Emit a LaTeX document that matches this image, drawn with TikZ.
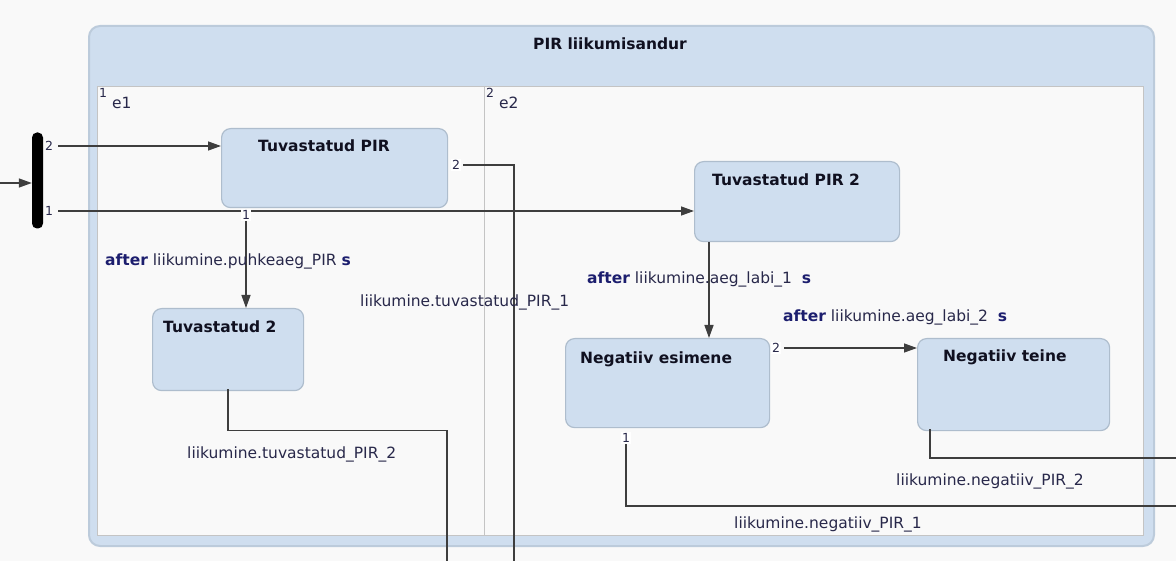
\documentclass[tikz,border=0pt]{standalone}
\usepackage{fontspec}
\setmainfont{DejaVu Sans}
\usetikzlibrary{arrows.meta}
\definecolor{bg}{HTML}{F9F9F9}
\definecolor{statefill}{HTML}{CFDEEF}
\definecolor{stateedge}{HTML}{AEBDCD}
\definecolor{machineedge}{HTML}{BCCBDB}
\definecolor{regionfill}{HTML}{F9F9F9}
\definecolor{regionedge}{HTML}{C4C4C4}
\definecolor{wire}{HTML}{3E3E3E}
\definecolor{labeltext}{HTML}{28284A}
\definecolor{keyword}{HTML}{1C1E6E}
\definecolor{titletext}{HTML}{101020}
\newcommand{\kw}[1]{{\bfseries\color{keyword}#1}}
\begin{document}
\begin{tikzpicture}[x=1pt,y=-1pt,
  txt/.style={font=\fontsize{15.5}{18}\selectfont, text=labeltext, inner sep=0pt, anchor=base west},
  title/.style={font=\fontsize{15.5}{18}\selectfont\bfseries, text=titletext, inner sep=0pt, anchor=base west},
  num/.style={font=\fontsize{12.5}{14}\selectfont, text=labeltext, inner sep=1pt, fill=white},
  numclear/.style={font=\fontsize{12.5}{14}\selectfont, text=labeltext, inner sep=1pt},
  state/.style={draw=stateedge, fill=statefill, line width=1.2pt, rounded corners=9pt, inner sep=0pt, anchor=north west},
  wireline/.style={draw=wire, line width=1.4pt},
  arrow/.style={wireline, -{Triangle[length=13pt,width=9pt]}},
]
\useasboundingbox (0,0) rectangle (1176,561);
\fill[bg] (0,0) rectangle (1176,561);

% composite state with its two regions
\node[draw=machineedge, fill=statefill, line width=2pt, rounded corners=11pt, inner sep=0pt, anchor=north west,
      minimum width=1065pt, minimum height=520pt] (machine) at (88,25) {};
\node[title, anchor=base] (machinetitle) at (610,50) {PIR liikumisandur};
\node[draw=regionedge, fill=regionfill, line width=1pt, inner sep=0pt, anchor=north west,
      minimum width=387pt, minimum height=449pt] (regionA) at (97,86) {};
\node[draw=regionedge, fill=regionfill, line width=1pt, inner sep=0pt, anchor=north west,
      minimum width=659pt, minimum height=449pt] (regionB) at (484,86) {};
\node[numclear, inner sep=0pt] (regionAnum) at (103,93) {1};
\node[txt] (regionAname) at (112,109) {e1};
\node[numclear, inner sep=0pt] (regionBnum) at (490,93) {2};
\node[txt] (regionBname) at (499,109) {e2};

% fork bar
\node[fill=black, rounded corners=5pt, minimum width=11pt, minimum height=96pt, inner sep=0pt] (fork) at (37.5,180.5) {};

% states
\node[state, minimum width=226pt, minimum height=79pt] (tpir) at (221,128) {};
\node[title] (tpirtitle) at (258,152) {Tuvastatud PIR};
\node[state, minimum width=205pt, minimum height=80pt] (tpir2) at (694,161) {};
\node[title] (tpir2title) at (712,186) {Tuvastatud PIR 2};
\node[state, minimum width=151pt, minimum height=82pt] (t2) at (152,308) {};
\node[title] (t2title) at (163,333) {Tuvastatud 2};
\node[state, minimum width=204pt, minimum height=89pt] (neg1) at (565,338) {};
\node[title] (neg1title) at (580,364) {Negatiiv esimene};
\node[state, minimum width=192pt, minimum height=92pt] (neg2) at (917,338) {};
\node[title] (neg2title) at (943,362) {Negatiiv teine};

% transition priority numbers
\node[numclear] (f2) at (49,146) {2};
\node[numclear] (f1) at (49,211) {1};
\node[num] (tp2) at (456,165) {2};
\node[num] (n1c) at (626,438) {1};
\node[num] (n2c) at (776,348) {2};

% free ends leaving the picture
\coordinate (entry) at (0,183);
\coordinate (exitA) at (514,561);
\coordinate (exitB) at (447,561);
\coordinate (exitC) at (1176,458);
\coordinate (exitD) at (1176,506);

% connectors
\draw[arrow] (entry) -- (entry -| fork.west);
\draw[arrow, shorten <=4pt] (f2.east) -- (f2.east -| tpir.west);
\draw[arrow, shorten <=4pt] (f1.east) -- (f1.east -| tpir2.west);
\node[num] (tp1) at (246,215) {1};
\draw[arrow] (tp1.south) -- (tp1.south |- t2.north);
\draw[wireline, shorten <=2pt] (tp2.east) -| (exitA);
\draw[wireline] ([yshift=2pt]t2.south) -- ++(0,41) -| (exitB);
\draw[arrow] ([xshift=15pt]tpir2.south west) -- ([xshift=15pt]tpir2.south west |- neg1.north);
\draw[arrow, shorten <=3pt] (n2c.east) -- (n2c.east -| neg2.west);
\draw[wireline] ([xshift=13pt,yshift=2pt]neg2.south west) |- (exitC);
\draw[wireline] (n1c.south) |- (exitD);

% transition labels
\node[txt] (lbl1) at (105,266) {\kw{after} liikumine.puhkeaeg\_PIR \kw{s}};
\node[txt] (lbl2) at (360,307) {liikumine.tuvastatud\_PIR\_1};
\node[txt] (lbl3) at (187,458) {liikumine.tuvastatud\_PIR\_2};
\node[txt] (lbl4) at (587,284) {\kw{after} liikumine.aeg\_labi\_1\ \ \kw{s}};
\node[txt] (lbl5) at (783,322) {\kw{after} liikumine.aeg\_labi\_2\ \ \kw{s}};
\node[txt] (lbl6) at (896,485) {liikumine.negatiiv\_PIR\_2};
\node[txt] (lbl7) at (734,528) {liikumine.negatiiv\_PIR\_1};
\end{tikzpicture}
\end{document}
